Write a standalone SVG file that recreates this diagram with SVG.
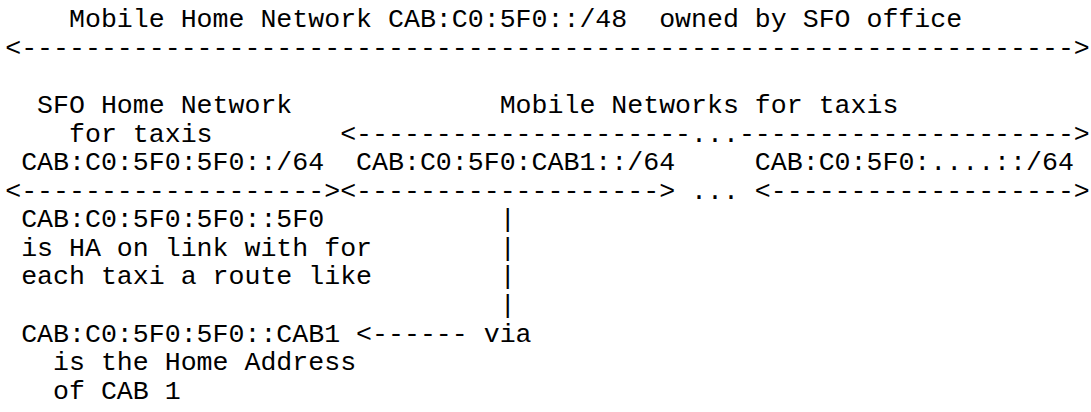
<svg xmlns="http://www.w3.org/2000/svg" width="1091" height="412" viewBox="0 0 1091 412" xml:space="preserve">
<style>
text{font-family:"Liberation Mono","DejaVu Sans Mono",monospace;font-size:26.58px;fill:#000;white-space:pre}
</style>
<rect width="1091" height="412" fill="#fff"/>
<g id="home-network">
<text x="69.0" y="27.1">Mobile Home Network CAB:C0:5F0::/48  owned by SFO office</text>
</g>
<g id="sfo-home-network">
<text x="37.1" y="112.9">SFO Home Network</text>
<text x="69.0" y="141.5">for taxis</text>
<text x="21.15" y="170.1">CAB:C0:5F0:5F0::/64</text>
</g>
<g id="mobile-networks">
<text x="499.65" y="112.9">Mobile Networks for taxis</text>
<text x="356.1" y="170.1">CAB:C0:5F0:CAB1::/64</text>
<text x="754.85" y="170.1">CAB:C0:5F0:....::/64</text>
</g>
<g id="ha-note">
<text x="21.15" y="227.2">CAB:C0:5F0:5F0::5F0</text>
<text x="21.15" y="255.8">is HA on link with for</text>
<text x="21.15" y="284.4">each taxi a route like</text>
</g>
<g id="home-address">
<text x="21.15" y="341.6">CAB:C0:5F0:5F0::CAB1</text>
<text x="53.05" y="370.2">is the Home Address</text>
<text x="53.05" y="398.8">of CAB 1</text>
</g>
<g id="via">
<text x="483.7" y="341.6">via</text>
</g>
<g id="connectors">
<text x="5.2" y="55.7" textLength="1084.6" lengthAdjust="spacing">&lt;------------------------------------------------------------------&gt;</text>
<text x="340.15" y="141.5" textLength="749.65" lengthAdjust="spacing">&lt;---------------------...---------------------&gt;</text>
<text x="5.2" y="198.6" textLength="334.95" lengthAdjust="spacing">&lt;-------------------&gt;</text>
<text x="340.15" y="198.6" textLength="334.95" lengthAdjust="spacing">&lt;-------------------&gt;</text>
<text x="691.05" y="198.6">...</text>
<text x="754.85" y="198.6" textLength="334.95" lengthAdjust="spacing">&lt;-------------------&gt;</text>
<text x="499.65" y="227.2">|</text>
<text x="499.65" y="255.8">|</text>
<text x="499.65" y="284.4">|</text>
<text x="499.65" y="313.0">|</text>
<text x="356.1" y="341.6">&lt;------</text>
</g>
</svg>
